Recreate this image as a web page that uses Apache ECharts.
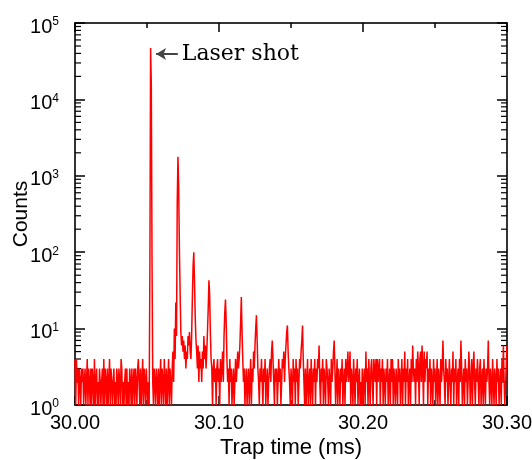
<!DOCTYPE html>
<html>
<head>
<meta charset="utf-8">
<script src="https://cdn.jsdelivr.net/npm/echarts@6/dist/echarts.min.js"></script>
<style>html,body{margin:0;padding:0;background:#fff;}#c{width:532px;height:460px;}</style>
</head>
<body>
<div id="c"></div>
<script>
// ---- data ----
const timeStart = 30.0;      // ms
const binWidth = 0.0005;     // ms per bin
const xTickLabels = ['30.00', '30.10', '30.20', '30.30'];
const yExponents = [0, 1, 2, 3, 4, 5];
const minorMultipliers = [2, 3, 4, 5, 6, 7, 8, 9];

// counts, 30.00 - 30.10 ms
const countsA = [
  4,1,4,2,3,1,3,2,1,3,2,3,1,2,3,1,2,4,1,3,
  2,1,3,1,3,2,1,4,1,2,3,1,2,1,3,2,1,2,3,1,
  4,1,3,2,1,3,1,2,4,1,3,2,1,2,3,1,2,1,3,2,
  1,3,2,1,4,3,1,2,1,2,3,1,3,1,2,1,3,2,1,3,
  1,2,3,1,3,2,1,3,4,2,1,3,1,2,4,1,3,2,1,3,
  3,1,2,1,60,47000,15000,70,2,1,3,2,1,3,2,1,3,1,2,4,
  1,3,2,1,4,2,1,3,1,2,4,1,3,2,1,3,5,2,10,4,
  22,8,450,1770,700,110,30,9,6,8,5,7,4,6,3,5,4,8,6,9,
  5,4,8,25,65,100,40,14,7,5,3,6,2,5,3,4,2,5,3,8,
  4,6,3,5,9,18,43,28,9,4,3,1,3,4,2,3,1,3,4,2
];
// counts, 30.10 - 30.20 ms
const countsB = [
  3,1,4,2,3,5,2,8,16,24,12,4,2,3,1,4,2,3,1,2,
  3,1,2,4,2,3,5,3,4,6,12,26,9,4,2,3,1,2,3,1,
  2,3,1,2,4,1,3,2,5,3,6,10,15,7,3,2,1,3,2,4,
  2,1,3,2,4,1,2,3,1,2,3,4,2,5,7,4,2,1,3,2,
  3,1,2,4,2,3,1,2,4,3,5,2,4,6,9,11,5,3,2,1,
  3,2,1,4,2,3,1,4,2,3,1,2,4,3,5,7,11,4,2,1,
  3,1,2,4,1,2,3,1,4,2,1,3,2,4,1,3,2,4,3,6,
  2,1,3,2,4,1,3,2,1,4,3,2,1,3,2,1,4,2,3,5,
  7,3,1,2,4,1,3,2,1,3,2,4,1,2,3,1,4,2,3,5,
  2,3,5,1,3,2,1,4,2,1,3,2,4,1,2,3,1,2,1,3
];
// counts, 30.20 - 30.30 ms
const countsC = [
  1,2,3,1,5,2,3,1,4,2,1,3,4,2,1,4,3,2,4,1,
  4,2,3,4,1,3,2,4,1,3,2,1,3,2,4,1,2,3,1,4,
  2,4,1,3,2,1,3,2,1,4,2,3,1,2,4,1,3,2,5,1,
  3,2,4,1,2,3,1,4,2,6,3,2,3,1,4,2,5,3,1,4,
  5,2,6,3,1,5,2,4,3,5,1,3,2,4,1,3,2,1,4,2,
  3,1,2,4,1,3,2,1,4,2,3,7,3,2,1,4,2,3,1,2,
  4,2,1,3,2,5,1,3,2,4,1,2,3,1,4,2,7,3,1,2,
  3,1,4,2,3,1,2,5,3,1,2,4,1,3,5,2,1,3,2,4,
  2,1,3,4,1,2,3,1,4,2,1,3,2,3,7,2,1,3,2,1,
  4,2,1,3,2,1,4,2,3,1,2,3,1,4,2,6,2,1,1,1,6
];

// annotation ("Laser shot" arrow), in data units
const annotationLabel = 'Laser shot';
const arrowTipTime = 30.0563;
const arrowTailTime = 30.0714;
const arrowCounts = 39300;

// ---- build ----
const counts = countsA.concat(countsB, countsC);
const lineData = counts.map((c, i) => [+(timeStart + i * binWidth).toFixed(4), c]);
const xMin = 30.0, xMax = 30.3;
const yMin = Math.pow(10, yExponents[0]);
const yMax = Math.pow(10, yExponents[yExponents.length - 1]);
const minorTickData = [];
for (let k = 0; k < yExponents.length - 1; k++) {
  for (const m of minorMultipliers) minorTickData.push([xMin, m * Math.pow(10, yExponents[k])]);
}

const axisColor = '#333';
const fontSans = '"Liberation Sans", Arial, sans-serif';

function xAxisCfg(pos, showLabel) {
  return {
    type: 'value', position: pos, min: xMin, max: xMax, interval: 0.1,
    axisLine: { show: true, onZero: false, lineStyle: { color: axisColor, width: 2 } },
    axisTick: { show: true, inside: true, length: 9, lineStyle: { color: '#000', width: 1.5 } },
    minorTick: { show: true, splitNumber: 2, length: 5, lineStyle: { color: '#000', width: 1.5 } },
    splitLine: { show: false }, minorSplitLine: { show: false },
    axisLabel: showLabel ? {
      show: true, margin: 8, color: '#000', fontSize: 20, fontFamily: fontSans,
      showMinLabel: true, showMaxLabel: true, hideOverlap: false,
      formatter: v => xTickLabels[Math.round((v - xMin) / 0.1)] || ''
    } : { show: false },
    name: showLabel ? 'Trap time (ms)' : '',
    nameLocation: 'middle', nameGap: 32, nameMoveOverlap: false,
    nameTextStyle: { color: '#000', fontSize: 22, fontFamily: fontSans }
  };
}
function yAxisCfg(pos, showLabel) {
  return {
    type: 'log', logBase: 10, position: pos, min: yMin, max: yMax, splitNumber: 5,
    axisLine: { show: true, onZero: false, lineStyle: { color: axisColor, width: 2 } },
    axisTick: { show: true, inside: true, length: 10, lineStyle: { color: '#000', width: 1.5 } },
    minorTick: { show: false }, splitLine: { show: false },
    axisLabel: showLabel ? {
      show: true, margin: 16, color: '#000', padding: [8, 0, 0, 0],
      formatter: v => '{b|10}{s|' + Math.round(Math.log10(v)) + '}',
      rich: {
        b: { fontSize: 20, lineHeight: 22, fontFamily: fontSans, color: '#000' },
        s: { fontSize: 12, lineHeight: 12, verticalAlign: 'top', fontFamily: fontSans, color: '#000' }
      }
    } : { show: false },
    name: showLabel ? 'Counts' : '',
    nameLocation: 'middle', nameGap: 43, nameRotate: 90, nameMoveOverlap: false,
    nameTextStyle: { color: '#000', fontSize: 21, fontFamily: fontSans }
  };
}

const chart = echarts.init(document.getElementById('c'), null, { renderer: 'canvas' });
chart.setOption({
  animation: false,
  backgroundColor: '#fff',
  grid: { left: 75, right: 25, top: 23, bottom: 55, containLabel: false, outerBoundsMode: 'none' },
  xAxis: [xAxisCfg('bottom', true), xAxisCfg('top', false)],
  yAxis: [yAxisCfg('left', true), yAxisCfg('right', false)],
  series: [
    {
      type: 'line', xAxisIndex: 0, yAxisIndex: 0, data: lineData,
      showSymbol: false, symbol: 'none', sampling: null, silent: true,
      lineStyle: { color: '#ff0000', width: 1.5 },
      markLine: {
        silent: true, animation: false,
        symbol: ['arrow', 'none'], symbolSize: [9, 10],
        lineStyle: { color: '#444', width: 2, type: 'solid' },
        label: { show: true, position: 'end', distance: 4, formatter: annotationLabel,
          color: '#000', fontSize: 22, fontFamily: '"DejaVu Serif", serif' },
        data: [[{ coord: [arrowTipTime, arrowCounts] }, { coord: [arrowTailTime, arrowCounts] }]]
      }
    },
    {
      type: 'custom', xAxisIndex: 0, yAxisIndex: 0, silent: true, clip: false,
      data: minorTickData,
      renderItem: function (params, api) {
        const v = api.value(1);
        const pL = api.coord([xMin, v]);
        const pR = api.coord([xMax, v]);
        return { type: 'group', children: [
          { type: 'line', shape: { x1: pL[0], y1: pL[1], x2: pL[0] + 6, y2: pL[1] }, style: { stroke: '#000', lineWidth: 1.2 } },
          { type: 'line', shape: { x1: pR[0] - 6, y1: pR[1], x2: pR[0], y2: pR[1] }, style: { stroke: '#000', lineWidth: 1.2 } }
        ] };
      }
    }
  ]
});
</script>
</body>
</html>
